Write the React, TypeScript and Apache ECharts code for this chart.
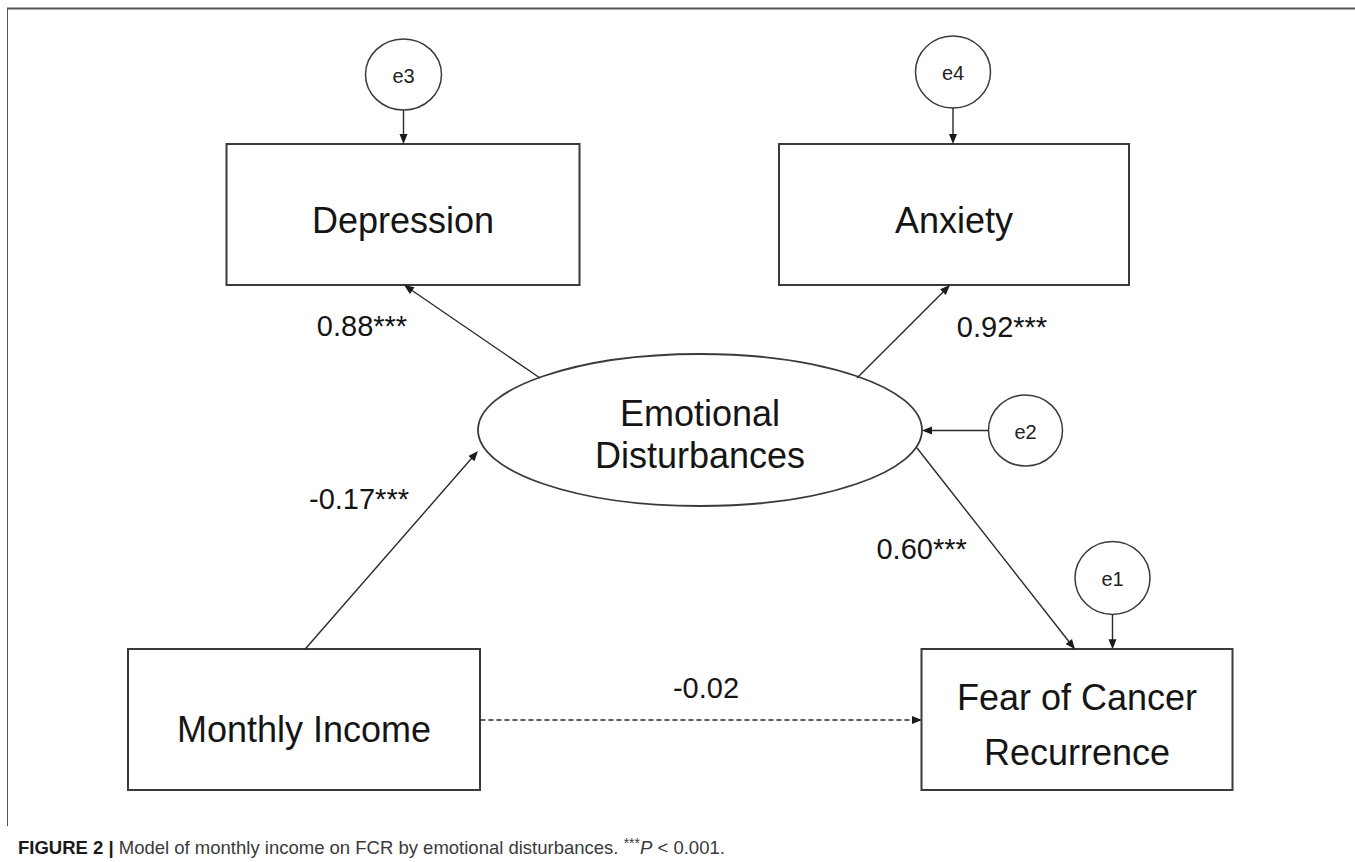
import React, { useEffect, useRef } from "react";
import * as echarts from "echarts";

// ---------- DATA ----------
// Observed variables (rectangles)
const observedNames = ["Depression", "Anxiety", "Monthly Income", "Fear of Cancer\nRecurrence"];
// Latent variable (ellipse)
const latentNames = ["Emotional\nDisturbances"];
// Error terms (small circles)
const errorNames = ["e3", "e4", "e2", "e1"];
// Structural / measurement paths
const pathFrom = ["Emotional Disturbances", "Emotional Disturbances", "Monthly Income", "Emotional Disturbances", "Monthly Income", "e3", "e4", "e2", "e1"];
const pathTo = ["Depression", "Anxiety", "Emotional Disturbances", "Fear of Cancer Recurrence", "Fear of Cancer Recurrence", "Depression", "Anxiety", "Emotional Disturbances", "Fear of Cancer Recurrence"];
const pathCoefficients = ["0.88***", "0.92***", "-0.17***", "0.60***", "-0.02"];
const pathSignificant = [true, true, true, true, false, true, true, true, true];
// Caption
const captionLabel = "FIGURE 2 |";
const captionText = "Model of monthly income on FCR by emotional disturbances. ";
const captionStars = "***";
const captionP = "P";
const captionRest = " < 0.001.";

// ---------- LAYOUT (pixel space of the diagram) ----------
// [cx, cy, width, height, textCenterY, lineHeight]
const observedLayout = [
  [403, 214.5, 353, 141, 220, 40],
  [954, 214.5, 350, 141, 220, 40],
  [304, 719.5, 352, 141, 729, 40],
  [1077, 719.5, 311, 141, 724.5, 55],
];
const latentLayout = [[700, 430, 444, 152, 434, 42]];
// [cx, cy, rx, ry]
const errorLayout = [
  [403.5, 74.5, 38, 35.5],
  [953, 72, 37.5, 36],
  [1025.5, 430.5, 37, 35.5],
  [1112.5, 578, 37.5, 36.5],
];
// [x1, y1, x2 (tip), y2 (tip)]
const pathLayout = [
  [540, 378, 404, 285],
  [857, 378, 950, 285],
  [305, 649.3, 478, 451],
  [917, 448, 1075, 649.3],
  [480.4, 720, 922, 720],
  [403.5, 110, 403.5, 144],
  [953, 108, 953, 144],
  [988.5, 430.5, 922, 430.5],
  [1112.5, 614.5, 1112.5, 649.3],
];
// coefficient label centers
const coefLayout = [
  [362, 326],
  [1002, 327],
  [359, 499],
  [921.6, 549],
  [706, 688],
];

const FONT = "'Liberation Sans', Arial, Helvetica, sans-serif";
const INK = "#151515";
const STROKE = "#3a3a3a";

export default function App() {
  const ref = useRef<HTMLDivElement>(null);

  useEffect(() => {
    if (!ref.current) return;
    const chart = echarts.init(ref.current, undefined, { renderer: "svg" });

    const option: any = {
      animation: false,
      backgroundColor: "#ffffff",
      grid: { left: 0, right: 0, top: 0, bottom: 0, containLabel: false },
      xAxis: { type: "value", min: 0, max: 1355, show: false },
      yAxis: { type: "value", min: 0, max: 862, inverse: true, show: false },
      graphic: [
        {
          type: "line",
          shape: { x1: 7, y1: 8.5, x2: 1355, y2: 8.5 },
          style: { stroke: "#555", lineWidth: 2 },
          silent: true,
        },
        {
          type: "line",
          shape: { x1: 7.5, y1: 8, x2: 7.5, y2: 826 },
          style: { stroke: "#555", lineWidth: 1 },
          silent: true,
        },
        {
          type: "text",
          x: 18,
          y: 847,
          style: {
            text:
              "{b|" + captionLabel + "}{r| " + captionText + "}{s|" + captionStars + "}{i|" + captionP + "}{r|" + captionRest + "}",
            verticalAlign: "middle",
            align: "left",
            rich: {
              b: { fontFamily: FONT, fontSize: 18.5, fontWeight: "bold", fill: "#1a1a1a", lineHeight: 22 },
              r: { fontFamily: FONT, fontSize: 18.5, fill: "#3a3a3a", lineHeight: 22 },
              s: { fontFamily: FONT, fontSize: 14, fill: "#3a3a3a", lineHeight: 22, verticalAlign: "top" },
              i: { fontFamily: FONT, fontSize: 18.5, fontStyle: "italic", fill: "#3a3a3a", lineHeight: 22 },
            },
          },
        },
      ],
      series: [
        // observed variables
        {
          type: "custom",
          name: "observed",
          coordinateSystem: "cartesian2d",
          z: 2,
          data: observedLayout,
          renderItem: (params: any, api: any) => {
            const i = params.dataIndex;
            const c = api.coord([api.value(0), api.value(1)]);
            const s = api.size([api.value(2), api.value(3)]);
            const t = api.coord([api.value(0), api.value(4)]);
            return {
              type: "group",
              children: [
                {
                  type: "rect",
                  shape: { x: c[0] - s[0] / 2, y: c[1] - s[1] / 2, width: s[0], height: s[1] },
                  style: { fill: "#fff", stroke: STROKE, lineWidth: 2 },
                },
                {
                  type: "text",
                  x: t[0],
                  y: t[1],
                  style: {
                    text: observedNames[i],
                    fontFamily: FONT,
                    fontSize: 36,
                    fill: INK,
                    align: "center",
                    verticalAlign: "middle",
                    lineHeight: api.value(5),
                  },
                },
              ],
            };
          },
        },
        // latent variable
        {
          type: "custom",
          name: "latent",
          coordinateSystem: "cartesian2d",
          z: 2,
          data: latentLayout,
          renderItem: (params: any, api: any) => {
            const i = params.dataIndex;
            const c = api.coord([api.value(0), api.value(1)]);
            const s = api.size([api.value(2), api.value(3)]);
            const t = api.coord([api.value(0), api.value(4)]);
            return {
              type: "group",
              children: [
                {
                  type: "ellipse",
                  shape: { cx: c[0], cy: c[1], rx: s[0] / 2, ry: s[1] / 2 },
                  style: { fill: "#fff", stroke: STROKE, lineWidth: 1.8 },
                },
                {
                  type: "text",
                  x: t[0],
                  y: t[1],
                  style: {
                    text: latentNames[i],
                    fontFamily: FONT,
                    fontSize: 36,
                    fill: INK,
                    align: "center",
                    verticalAlign: "middle",
                    lineHeight: api.value(5),
                  },
                },
              ],
            };
          },
        },
        // error terms
        {
          type: "custom",
          name: "errors",
          coordinateSystem: "cartesian2d",
          z: 2,
          data: errorLayout,
          renderItem: (params: any, api: any) => {
            const i = params.dataIndex;
            const c = api.coord([api.value(0), api.value(1)]);
            const s = api.size([api.value(2), api.value(3)]);
            return {
              type: "group",
              children: [
                {
                  type: "ellipse",
                  shape: { cx: c[0], cy: c[1], rx: s[0], ry: s[1] },
                  style: { fill: "#fff", stroke: STROKE, lineWidth: 1.5 },
                },
                {
                  type: "text",
                  x: c[0],
                  y: c[1] + 1,
                  style: {
                    text: errorNames[i],
                    fontFamily: FONT,
                    fontSize: 20,
                    fill: "#222",
                    align: "center",
                    verticalAlign: "middle",
                  },
                },
              ],
            };
          },
        },
        // paths (arrows)
        {
          type: "custom",
          name: "paths",
          coordinateSystem: "cartesian2d",
          z: 3,
          data: pathLayout,
          renderItem: (params: any, api: any) => {
            const i = params.dataIndex;
            const p1 = api.coord([api.value(0), api.value(1)]);
            const p2 = api.coord([api.value(2), api.value(3)]);
            const dx = p2[0] - p1[0];
            const dy = p2[1] - p1[1];
            const len = Math.sqrt(dx * dx + dy * dy);
            const ux = dx / len;
            const uy = dy / len;
            const headLen = 10;
            const headHalf = 4;
            const bx = p2[0] - ux * headLen;
            const by = p2[1] - uy * headLen;
            const dashed = !pathSignificant[i];
            return {
              type: "group",
              children: [
                {
                  type: "line",
                  shape: { x1: p1[0], y1: p1[1], x2: bx + ux * 2, y2: by + uy * 2 },
                  style: {
                    stroke: "#2a2a2a",
                    lineWidth: 1.4,
                    lineDash: dashed ? [5, 3] : null,
                  },
                },
                {
                  type: "polygon",
                  shape: {
                    points: [
                      [p2[0], p2[1]],
                      [bx - uy * headHalf, by + ux * headHalf],
                      [bx + uy * headHalf, by - ux * headHalf],
                    ],
                  },
                  style: { fill: "#1a1a1a" },
                },
              ],
            };
          },
        },
        // path coefficients
        {
          type: "custom",
          name: "coefficients",
          coordinateSystem: "cartesian2d",
          z: 4,
          data: coefLayout,
          renderItem: (params: any, api: any) => {
            const i = params.dataIndex;
            const c = api.coord([api.value(0), api.value(1)]);
            return {
              type: "text",
              x: c[0],
              y: c[1],
              style: {
                text: pathCoefficients[i],
                fontFamily: FONT,
                fontSize: 29,
                fill: INK,
                align: "center",
                verticalAlign: "middle",
              },
            };
          },
        },
      ],
    };

    chart.setOption(option);
    return () => {
      chart.dispose();
    };
  }, []);

  return (
    <div
      ref={ref}
      style={{ position: "fixed", left: 0, top: 0, width: 1355, height: 862, background: "#fff" }}
    />
  );
}
